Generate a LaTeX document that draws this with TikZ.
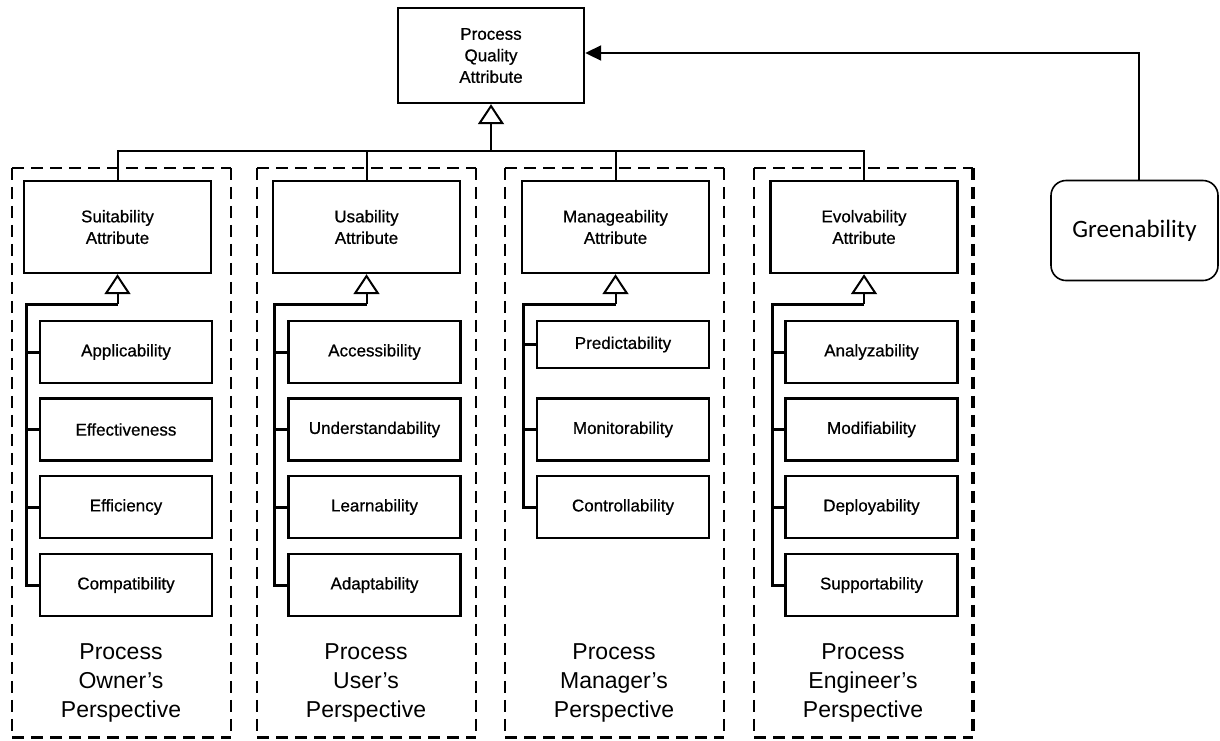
\documentclass[tikz,border=0pt]{standalone}
\usepackage{fontspec}
\setmainfont{Liberation Sans}
\newfontfamily\boxfont[FakeBold=0.7]{Liberation Sans}
\newfontfamily\calibrifont{Carlito}
\usetikzlibrary{arrows.meta}
\begin{document}
\begin{tikzpicture}[x=1pt,y=-1pt,
  box/.style={draw, line width=2.4pt, rectangle, align=center, inner sep=0pt,
    font=\boxfont\fontsize{17}{21.5}\selectfont},
  attr/.style={box, minimum width=187pt, minimum height=92pt},
  leaf/.style={box, minimum width=172pt, minimum height=62pt},
  area/.style={inner sep=0pt, minimum width=218pt, minimum height=569pt},
  framedash/.style={line width=2pt, dash pattern=on 12pt off 7pt},
  persp/.style={align=center, font=\fontsize{23}{29}\selectfont},
  link/.style={line width=2pt},
  branch/.style={line width=3pt},
  gen/.style={line width=2pt, -{Triangle[open, length=20pt, width=26pt, line width=2pt]}},
  assoc/.style={line width=2pt, -{Triangle[length=16pt, width=15pt]}},
]
\useasboundingbox (0,0) rectangle (1220,740);

% perspective frames
\node[area] (f1) at (121.5,452.5) {};
\node[area] (f2) at (366.5,452.5) {};
\node[area] (f3) at (614.5,452.5) {};
\node[area] (f4) at (863.5,452.5) {};
\foreach \f in {f1,f2,f3} {
  \draw[framedash] (\f.north west) -- (\f.north east);
  \draw[framedash] (\f.north west) -- (\f.south west);
  \draw[framedash] (\f.north east) -- (\f.south east);
  \draw[framedash, line width=3pt] (\f.south west) -- (\f.south east);
}
\draw[framedash] (f4.north west) -- (f4.north east);
\draw[framedash] (f4.north west) -- (f4.south west);
\draw[framedash, line width=4pt] (f4.north east) -- (f4.south east);
\draw[framedash, line width=3pt] (f4.south west) -- (f4.south east);

% root
\node[box, minimum width=186pt, minimum height=95pt] (pqa) at (491,55.5)
  {Process\\Quality\\Attribute};

% perspective attributes
\node[attr] (suit) at (117.5,227) {Suitability\\Attribute};
\node[attr] (usab) at (366.5,227) {Usability\\Attribute};
\node[attr] (mng)  at (615.5,227) {Manageability\\Attribute};
\node[attr] (evol) at (864,227)   {Evolvability\\Attribute};

% owner's sub-attributes
\node[leaf] (s1) at (126,352)   {Applicability};
\node[leaf] (s2) at (126,429.5) {Effectiveness};
\node[leaf] (s3) at (126,507)   {Efficiency};
\node[leaf] (s4) at (126,585)   {Compatibility};

% user's sub-attributes
\node[leaf] (u1) at (374.5,352)   {Accessibility};
\node[leaf] (u2) at (374.5,429.5) {Understandability};
\node[leaf] (u3) at (374.5,507)   {Learnability};
\node[leaf] (u4) at (374.5,585)   {Adaptability};

% manager's sub-attributes
\node[leaf, minimum height=47pt] (m1) at (623,344.5) {Predictability};
\node[leaf] (m2) at (623,429.5) {Monitorability};
\node[leaf] (m3) at (623,507)   {Controllability};

% engineer's sub-attributes
\node[leaf] (e1) at (871.5,352)   {Analyzability};
\node[leaf] (e2) at (871.5,429.5) {Modifiability};
\node[leaf] (e3) at (871.5,507)   {Deployability};
\node[leaf] (e4) at (871.5,585)   {Supportability};

% perspective captions
\node[persp] (p1) at (121,683) {Process\\Owner's\\Perspective};
\node[persp] (p2) at (366,683) {Process\\User's\\Perspective};
\node[persp] (p3) at (614,683) {Process\\Manager's\\Perspective};
\node[persp] (p4) at (863,683) {Process\\Engineer's\\Perspective};

% greenability
\node[draw, rounded corners=15pt, line width=1.6pt, minimum width=167pt,
  minimum height=100pt, font=\calibrifont\fontsize{25}{30}\selectfont]
  (green) at (1134.5,230.5) {Greenability};

% generalisation to the root
\coordinate (bus) at (491,151);
\draw[link] (suit.north) |- (bus) -| (evol.north);
\draw[link] (usab.north) -- (usab.north |- bus);
\draw[link] (mng.north) -- (mng.north |- bus);
\draw[gen] (bus) -- (pqa.south);

% owner's tree
\coordinate (sj) at (117.5,304);
\coordinate (sb) at (26,304);
\draw[gen] (sj) -- (suit.south);
\draw[branch] (sj) -- (sb) |- (s4.west);
\foreach \n in {s1,s2,s3} \draw[branch] (sb |- \n.west) -- (\n.west);

% user's tree
\coordinate (uj) at (366.5,304);
\coordinate (ub) at (274,304);
\draw[gen] (uj) -- (usab.south);
\draw[branch] (uj) -- (ub) |- (u4.west);
\foreach \n in {u1,u2,u3} \draw[branch] (ub |- \n.west) -- (\n.west);

% manager's tree
\coordinate (mj) at (615.5,304);
\coordinate (mb) at (523,304);
\draw[gen] (mj) -- (mng.south);
\draw[branch] (mj) -- (mb) |- (m3.west);
\foreach \n in {m1,m2} \draw[branch] (mb |- \n.west) -- (\n.west);

% engineer's tree
\coordinate (ej) at (864,304);
\coordinate (eb) at (772,304);
\draw[gen] (ej) -- (evol.south);
\draw[branch] (ej) -- (eb) |- (e4.west);
\foreach \n in {e1,e2,e3} \draw[branch] (eb |- \n.west) -- (\n.west);

% greenability refines process quality
\draw[assoc] ([xshift=4.5pt]green.north) |- ([yshift=2.5pt]pqa.east);
\end{tikzpicture}
\end{document}
